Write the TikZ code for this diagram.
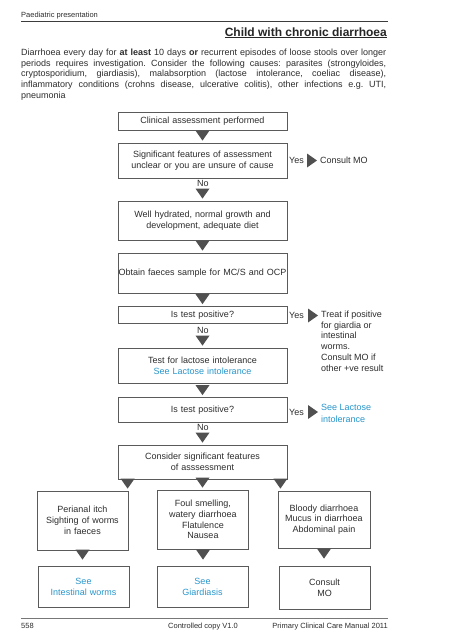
\documentclass[tikz,border=0pt]{standalone}
\usepackage{fontspec}
\setmainfont{Liberation Sans}
\usepackage{xcolor}
\usepackage{tikz}
\usetikzlibrary{shapes,arrows,positioning,fit,calc}
\frenchspacing

\definecolor{textgray}{RGB}{45,45,45}
\definecolor{boxgray}{RGB}{90,90,90}
\definecolor{arrowgray}{RGB}{80,80,80}
\definecolor{linkblue}{RGB}{40,150,205}
\definecolor{rulegray}{RGB}{60,60,60}

\tikzset{
  plaintext/.style={inner sep=0pt, font=\fontsize{9}{10.8}\selectfont, text=textgray},
  foot/.style={plaintext, font=\fontsize{7.5}{9}\selectfont},
  flowbox/.style={draw=boxgray, line width=0.8pt, fill=white, inner sep=0pt, align=center,
    font=\fontsize{9}{10.8}\selectfont, text=textgray},
  mainbox/.style={flowbox, minimum width=169, text width=167, minimum height=#1},
  smallbox/.style={flowbox, minimum width=91, text width=89, minimum height=#1},
  downtri/.style={fill=arrowgray, to path={($(\tikztostart |- \tikztotarget)+(0,-#1)$) -- ++(-7,-10) -- ++(14,0) -- cycle}},
  downtri/.default=2,
  righttri/.style={fill=arrowgray, to path={($(\tikztotarget |- \tikztostart)+(-3,0)$) -- ++(-10,-7) -- ++(0,14) -- cycle}},
}

\begin{document}
\begin{tikzpicture}[x=1pt, y=-1pt]
  % Trang giay
  \useasboundingbox (0,0) rectangle (453,640);
  \fill[white] (0,0) rectangle (453,640);

  % Dau trang
  \node[foot, anchor=base west] (head) at (21,17.5) {Paediatric presentation};
  \draw[rulegray, line width=1pt] (21,21) -- (388,21);
  \node[plaintext, font=\bfseries\fontsize{12}{14}\selectfont, text=black!85, anchor=base east] (title) at (387,36) {\underline{Child with chronic diarrhoea}};

  % Doan gioi thieu
  \node[plaintext, anchor=north west, text width=365, align=justify] (intro) at (21,48.5)
    {Diarrhoea every day for \textbf{at least} 10 days \textbf{or} recurrent episodes of loose stools over longer\linebreak
     periods requires investigation. Consider the following causes: parasites (strongyloides,\linebreak
     cryptosporidium, giardiasis), malabsorption (lactose intolerance, coeliac disease),\linebreak
     inflammatory conditions (crohns disease, ulcerative colitis), other infections e.g. UTI,\linebreak
     pneumonia};

  % Cot chinh
  \node[mainbox=18] (clinical) at (202.5,121.5) {Clinical assessment performed};
  \node[mainbox=35] (signif) at (202.5,160.5) {Significant features of assessment\\unclear or you are unsure of cause};
  \node[mainbox=39] (welldiet) at (202.5,220.5) {Well hydrated, normal growth and\\development, adequate diet};
  \node[mainbox=40, text width=175, inner xsep=-3pt] (faeces) at (202.5,273) {Obtain faeces sample for MC/S and OCP};
  \node[mainbox=17] (testone) at (202.5,315) {Is test positive?};
  \node[mainbox=35] (lactose) at (202.5,365.5) {Test for lactose intolerance\\\textcolor{linkblue}{See Lactose intolerance}};
  \node[mainbox=25] (testtwo) at (202.5,410) {Is test positive?};
  \node[mainbox=34] (consider) at (202.5,462) {Consider significant features\\of asssessment};

  % Nhan No
  \node[plaintext] (noA) at (203,183.5) {No};
  \node[plaintext] (noB) at (203,330) {No};
  \node[plaintext] (noC) at (203,427.5) {No};

  % Nhanh Yes ben phai
  \node[plaintext] (yesA) at (296.5,160.5) {Yes};
  \node[plaintext, anchor=west] (consult) at (320,160) {Consult MO};
  \node[plaintext] (yesB) at (296.5,315.5) {Yes};
  \node[plaintext, anchor=north west, align=left] (treat) at (321,310.5)
    {Treat if positive\\for giardia or\\intestinal\\worms.\\Consult MO if\\other +ve result};
  \node[plaintext] (yesC) at (296.5,412) {Yes};
  \node[plaintext, anchor=north west, align=left, text=linkblue, font=\fontsize{9}{12}\selectfont] (seelact) at (321,404.5)
    {See Lactose\\intolerance};

  % Ba nhanh cuoi
  \node[smallbox=59] (perianal) at (82.5,520.5) {Perianal itch\\Sighting of worms\\in faeces};
  \node[smallbox=59] (foul) at (203,519.5) {Foul smelling,\\watery diarrhoea\\Flatulence\\Nausea};
  \node[smallbox=57, minimum width=92] (bloody) at (324,519.5) {Bloody diarrhoea\\Mucus in diarrhoea\\Abdominal pain};
  \node[smallbox=41, text=linkblue] (seeworms) at (83.5,586.5) {See\\Intestinal worms};
  \node[smallbox=41, text=linkblue] (seegiard) at (202.5,586.5) {See\\Giardiasis};
  \node[smallbox=43] (consultmo) at (324.5,587.5) {Consult\\MO};

  % Mui ten tam giac
  \fill[downtri] (clinical.south) to (signif.north);
  \fill[downtri] (signif.south) to (welldiet.north);
  \fill[downtri] (welldiet.south) to (faeces.north);
  \fill[downtri] (faeces.south) to (testone.north);
  \fill[downtri] (testone.south) to (lactose.north);
  \fill[downtri] (lactose.south) to (testtwo.north);
  \fill[downtri] (testtwo.south) to (consider.north);
  \fill[downtri] ([xshift=10pt]consider.south west) to (perianal.north);
  \fill[downtri] (consider.south) to (foul.north);
  \fill[downtri] ([xshift=-7pt]consider.south east) to (bloody.north);
  \fill[downtri=6] (perianal.south) to (seeworms.north);
  \fill[downtri=6] (foul.south) to (seegiard.north);
  \fill[downtri=7] (bloody.south) to (consultmo.north);
  \fill[righttri] (yesA) to (consult.west);
  \fill[righttri] (yesB) to (treat.west);
  \fill[righttri] (yesC) to (seelact.west);

  % Chan trang
  \draw[rulegray!70, line width=0.8pt] (21,618) -- (388,618);
  \node[foot, anchor=base west] (pagenum) at (21,628) {558};
  \node[foot, anchor=base west] (copy) at (168,628) {Controlled copy V1.0};
  \node[foot, anchor=base east] (manual) at (388,628) {Primary Clinical Care Manual 2011};
\end{tikzpicture}
\end{document}
